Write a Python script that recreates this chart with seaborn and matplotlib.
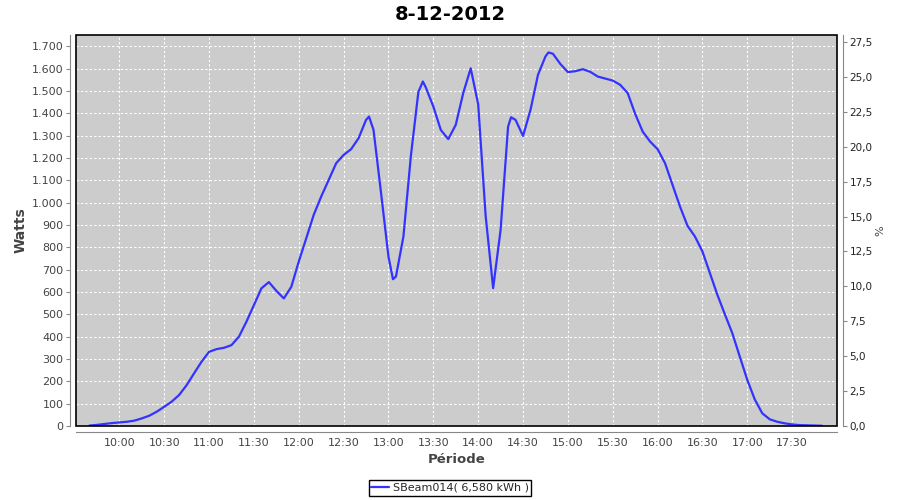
import matplotlib
matplotlib.use('Agg')
import matplotlib.pyplot as plt
import seaborn as sns
import pandas as pd
from matplotlib.ticker import FuncFormatter, MultipleLocator
from matplotlib.patches import Rectangle

TITLE = '8-12-2012'
SERIE = 'SBeam014( 6,580 kWh )'
PUISSANCE_MAX = 6250  # l'axe de droite = % de 6250 W

heures = [
    '09:40', '09:45', '09:50', '09:55', '10:00', '10:05', '10:10', '10:15',
    '10:20', '10:25', '10:30', '10:35', '10:40', '10:45', '10:50', '10:55',
    '11:00', '11:05', '11:10', '11:15', '11:20', '11:25', '11:30', '11:35',
    '11:40', '11:45', '11:50', '11:55', '12:00', '12:05', '12:10', '12:15',
    '12:20', '12:25', '12:30', '12:35', '12:40', '12:45', '12:47', '12:50',
    '12:55', '13:00', '13:03', '13:05', '13:10', '13:15', '13:20', '13:23',
    '13:25', '13:30', '13:35', '13:40', '13:45', '13:50', '13:55', '14:00',
    '14:05', '14:10', '14:15', '14:20', '14:22', '14:25', '14:30', '14:35',
    '14:40', '14:45', '14:47', '14:50', '14:55', '15:00', '15:05', '15:10',
    '15:15', '15:20', '15:25', '15:30', '15:35', '15:40', '15:45', '15:50',
    '15:55', '16:00', '16:05', '16:10', '16:15', '16:20', '16:25', '16:30',
    '16:35', '16:40', '16:45', '16:50', '16:55', '17:00', '17:05', '17:10',
    '17:15', '17:20', '17:25', '17:30', '17:35', '17:40', '17:45', '17:50',
]
watts = [
    2, 5, 9, 13, 16, 19, 24, 34,
    46, 64, 86, 109, 139, 183, 236, 288,
    332, 344, 350, 362, 400, 467, 541, 616,
    644, 605, 571, 623, 736, 840, 945, 1027,
    1101, 1176, 1213, 1239, 1288, 1370, 1385, 1325,
    1045, 758, 657, 669, 848, 1210, 1495, 1542,
    1515, 1430, 1325, 1284, 1348, 1490, 1601, 1440,
    940, 617, 878, 1340, 1382, 1370, 1298, 1415,
    1572, 1654, 1672, 1666, 1620, 1584, 1588, 1597,
    1585, 1564, 1555, 1546, 1527, 1490, 1397, 1318,
    1273, 1239, 1176, 1079, 982, 896, 848, 781,
    684, 587, 500, 415, 310, 206, 119, 57,
    30, 19, 12, 7, 4, 3, 2, 1,
]
graduations_x = ['10:00', '10:30', '11:00', '11:30', '12:00', '12:30', '13:00', '13:30',
                 '14:00', '14:30', '15:00', '15:30', '16:00', '16:30', '17:00', '17:30']


def en_minutes(h):
    hh, mm = h.split(':')
    return int(hh) * 60 + int(mm)


def main():
    sns.set_style('white')
    plt.rcParams['font.family'] = ['DejaVu Sans']

    df = pd.DataFrame({'minutes': [en_minutes(h) for h in heures], 'watts': watts})

    fig = plt.figure(figsize=(9, 5), dpi=100)
    ax = fig.add_axes([76 / 900, 74 / 500, 761 / 900, 391 / 500])
    ax.set_facecolor('#cccccc')

    sns.lineplot(data=df, x='minutes', y='watts', ax=ax, color='#3333ff',
                 linewidth=1.6, label=SERIE, legend=False)

    ax.set_xlim(571, 1080)
    ax.set_ylim(0, 1750)
    ticks_x = [en_minutes(h) for h in graduations_x]
    ax.set_xticks(ticks_x)
    ax.set_xticklabels(graduations_x)
    ax.yaxis.set_major_locator(MultipleLocator(100))
    ax.yaxis.set_major_formatter(FuncFormatter(lambda v, p: f'{int(v):,}'.replace(',', '.')))
    ax.grid(True, color='white', linestyle=(0, (2, 2)), linewidth=0.8)

    for s in ['top', 'right']:
        ax.spines[s].set_visible(False)
    for s in ['left', 'bottom']:
        ax.spines[s].set_position(('outward', 4))
        ax.spines[s].set_color('#888888')
    ax.tick_params(axis='both', direction='out', length=3, color='#888888',
                   labelsize=8, labelcolor='#444444', pad=2)

    ax.set_xlabel('Période', fontsize=9.5, fontweight='bold', color='#444444')
    ax.xaxis.set_label_coords(0.5, -0.069)
    ax.set_ylabel('Watts', fontsize=10, fontweight='bold', color='#444444')
    ax.yaxis.set_label_coords(-0.063, 0.5)

    # axe de droite en %
    ax2 = ax.twinx()
    ax2.set_ylim(0, 1750 / PUISSANCE_MAX * 100)
    ax2.yaxis.set_major_locator(MultipleLocator(2.5))
    ax2.yaxis.set_major_formatter(FuncFormatter(lambda v, p: f'{v:.1f}'.replace('.', ',')))
    for s in ['top', 'left', 'bottom']:
        ax2.spines[s].set_visible(False)
    ax2.spines['right'].set_position(('outward', 4))
    ax2.spines['right'].set_color('#888888')
    ax2.tick_params(axis='y', direction='out', length=3, color='#888888',
                    labelsize=7.5, labelcolor='#222222', pad=2)
    ax2.set_ylabel('%', fontsize=8, color='#444444')
    ax2.yaxis.set_label_coords(1.05, 0.5)

    ax2.add_patch(Rectangle((0, 0), 1, 1, transform=ax2.transAxes, fill=False,
                            edgecolor='black', linewidth=1.2, clip_on=False, zorder=5))

    fig.text(0.5, 1 - 14 / 500, TITLE, ha='center', va='center',
             fontsize=14, fontweight='bold', color='black')

    handles, labels = ax.get_legend_handles_labels()
    fig.legend(handles, labels, loc='center', bbox_to_anchor=(0.5, 0.024),
               frameon=True, fancybox=False, edgecolor='black', fontsize=8,
               handlelength=1.6, handletextpad=0.3, borderpad=0.25,
               framealpha=1)

    fig.savefig('out.png', dpi=100)


if __name__ == "__main__":
    main()
